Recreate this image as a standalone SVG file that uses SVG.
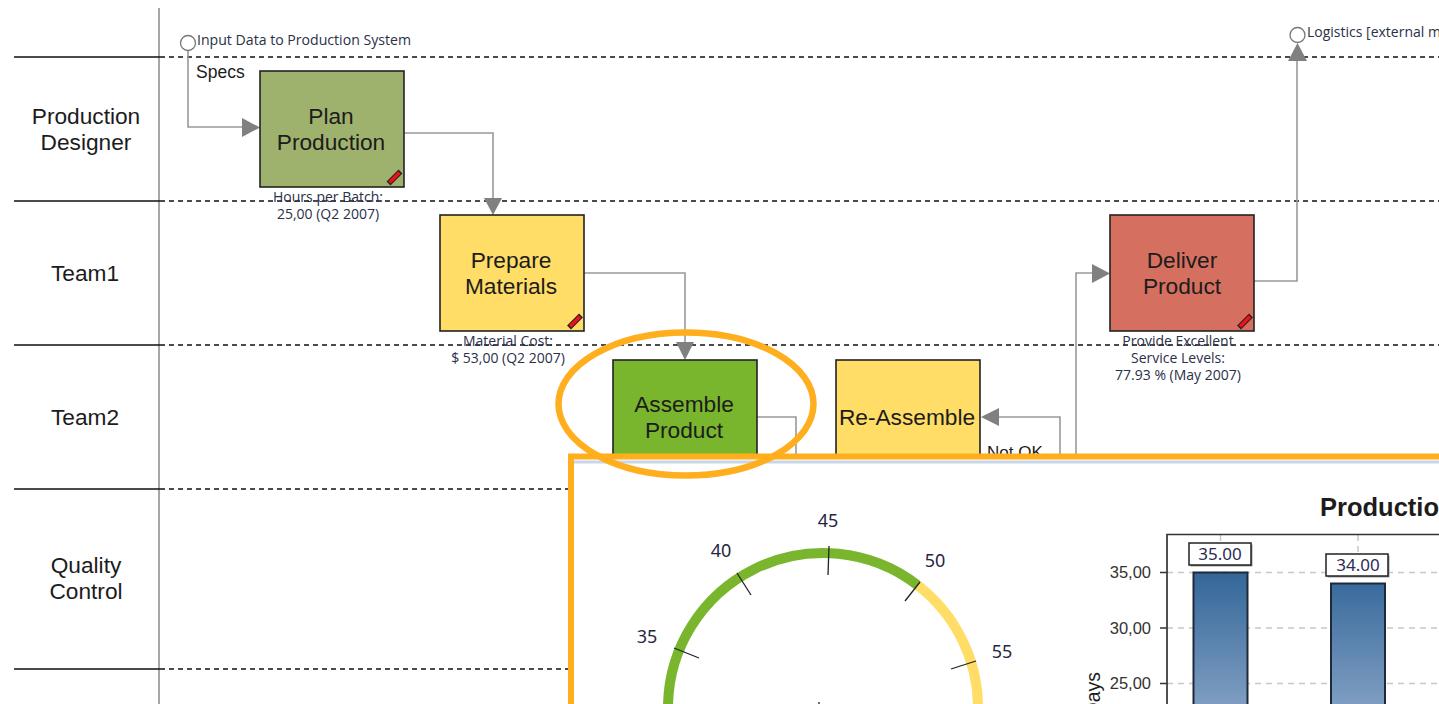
<svg xmlns="http://www.w3.org/2000/svg" xmlns:xlink="http://www.w3.org/1999/xlink" width="1439" height="704" viewBox="0 0 1439 704">
<style>
text{font-family:"Liberation Sans",Arial,sans-serif;fill:#1c1c1c}
.big{font-size:22.700px;text-anchor:middle}
.small{font-family:"Open Sans","Noto Sans",sans-serif;font-size:14px;fill:#2a3048}
.mid{text-anchor:middle}
.box{stroke:#222;stroke-width:1.6}
.sol{stroke:#111;stroke-width:1.5;fill:none}
.dash{stroke:#111;stroke-width:1.5;stroke-dasharray:5 4;fill:none}
.con{stroke:#999;stroke-width:1.6;fill:none}
.head{fill:#808080}
.term{fill:#fff;stroke:#777;stroke-width:1.3}
.gauge{font-family:"Noto Sans",sans-serif;font-size:18px;fill:#26263f;text-anchor:middle}
.tick{stroke:#222;stroke-width:1.3}
.ax{font-size:16.500px;fill:#333;text-anchor:end}
.grid{stroke:#c8c8c8;stroke-width:1.5;stroke-dasharray:6 5}
.bar{fill:url(#bar);stroke:#1f2a38;stroke-width:2}
.val{font-family:"Noto Sans",sans-serif;font-size:17px;fill:#2c2c55;text-anchor:middle}
.vbox{fill:#fff;stroke:#222;stroke-width:1.5}
</style>
<defs>
<linearGradient id="bar" gradientUnits="userSpaceOnUse" x1="0" y1="572" x2="0" y2="704"><stop offset="0" stop-color="#336699"/><stop offset="1" stop-color="#7e9dc1"/></linearGradient>
<g id="pencil"><path d="M-6 6L6-6" stroke="#222" stroke-width="5.500"/><path d="M-5 5L5-5" stroke="#f0101c" stroke-width="3.500"/></g>
</defs>

<g id="lanes">
<path d="M159 8V704" stroke="#8a8a8a" stroke-width="1.5" fill="none"/>
<path class="sol" d="M14 57H160M14 201H160M14 345H160M14 489H160M14 669H160"/>
<path class="dash" d="M160 57H1439M160 201H1439M160 345H1439M160 489H1439M160 669H1439"/>
<text class="big" x="86" y="124">Production</text><text class="big" x="86" y="150">Designer</text>
<text class="big" x="85" y="281">Team1</text>
<text class="big" x="85" y="425">Team2</text>
<text class="big" x="86" y="573">Quality</text><text class="big" x="86" y="599">Control</text>
</g>

<g id="connectors">
<path class="con" d="M188 50V127H243"/>
<path class="head" d="M242 118L260 127.500L242 137Z"/>
<path class="con" d="M404 133H493V199"/>
<path class="head" d="M484 198H502L493 215Z"/>
<path class="con" d="M584 273H685V343"/>
<path class="head" d="M676 342H694L685 360Z"/>
<path class="con" d="M757 417H796V456"/>
<path class="con" d="M998 417H1060V456"/>
<path class="head" d="M999 408V426L981 417Z"/>
<path class="con" d="M1076 456V273H1093"/>
<path class="head" d="M1092 264L1110 273.500L1092 283Z"/>
<path class="con" d="M1254 281H1297V60"/>
<path class="head" d="M1288 61H1307L1297.500 43Z"/>
</g>

<g id="start"><circle class="term" cx="188" cy="43" r="7.500"/><text class="small" x="197" y="45" textLength="214" lengthAdjust="spacingAndGlyphs">Input Data to Production System</text></g>
<g id="end"><circle class="term" cx="1297.500" cy="35" r="7.500"/><text class="small" x="1307" y="37">Logistics [external m</text></g>
<text id="label-specs" x="196" y="78" font-size="17.500">Specs</text>
<text id="label-notok" x="987" y="458" font-size="17px">Not OK</text>

<g id="plan-production">
<rect class="box" x="260" y="71" width="144" height="116" fill="#9fb26d"/>
<use xlink:href="#pencil" href="#pencil" x="394.500" y="177.500"/>
<text class="big" x="331" y="124">Plan</text><text class="big" x="331" y="150">Production</text>
<text class="small mid" x="328" y="202">Hours per Batch:</text><text class="small mid" x="328" y="219">25,00 (Q2 2007)</text>
</g>
<g id="prepare-materials">
<rect class="box" x="440" y="215" width="144" height="116" fill="#ffdd66"/>
<use xlink:href="#pencil" href="#pencil" x="575" y="321.500"/>
<text class="big" x="511" y="268">Prepare</text><text class="big" x="511" y="294">Materials</text>
<text class="small mid" x="508" y="346">Material Cost:</text><text class="small mid" x="508" y="363">$ 53,00 (Q2 2007)</text>
</g>
<g id="assemble-product">
<rect class="box" x="613" y="360" width="144" height="116" fill="#79b52d"/>
<text class="big" x="684" y="412">Assemble</text><text class="big" x="684" y="438">Product</text>
</g>
<g id="re-assemble">
<rect class="box" x="836" y="360" width="144" height="116" fill="#ffdd66"/>
<text class="big" x="907" y="425">Re-Assemble</text>
</g>
<g id="deliver-product">
<rect class="box" x="1110" y="215" width="144" height="116" fill="#d57060"/>
<use xlink:href="#pencil" href="#pencil" x="1245" y="321.500"/>
<text class="big" x="1182" y="268">Deliver</text><text class="big" x="1182" y="294">Product</text>
<text class="small mid" x="1178" y="346">Provide Excellent</text><text class="small mid" x="1178" y="363">Service Levels:</text><text class="small mid" x="1178" y="380">77.93 % (May 2007)</text>
</g>

<g id="panel">
<rect x="571" y="456.500" width="880" height="260" fill="#fff" stroke="#ffae1e" stroke-width="6"/>
<path d="M574 462H1439" stroke="#c9d6e8" stroke-width="3"/>
<g id="gauge">
<path d="M668 708A155 155 0 0 1 917.600 585.200" fill="none" stroke="#79b52d" stroke-width="10"/>
<path d="M917.600 585.200A155 155 0 0 1 978 708" fill="none" stroke="#ffdd66" stroke-width="10"/>
<path class="tick" d="M829 546L828 575M737 573L751 595M920 582L905 601M674 648L699 658M976 661L951 669M819 702V704"/>
<text class="gauge" x="828" y="527">45</text><text class="gauge" x="721" y="557">40</text><text class="gauge" x="935" y="567">50</text><text class="gauge" x="647" y="643">35</text><text class="gauge" x="1002" y="658">55</text>
</g>
<g id="chart">
<text x="1320" y="516" font-size="25.500" font-weight="bold" fill="#111">Production</text>
<path class="grid" d="M1167 572.500H1439M1167 628H1439M1167 683.500H1439M1220.500 535V543M1358 535V554"/>
<path d="M1440 534.500H1167V704M1160 572.500H1167M1160 628H1167M1160 683.500H1167" fill="none" stroke="#333" stroke-width="1.700"/>
<rect class="bar" x="1193.500" y="572.500" width="54" height="140"/>
<rect class="bar" x="1331" y="583.500" width="54" height="130"/>
<rect x="1190.500" y="544.500" width="62" height="22" fill="#999"/><rect class="vbox" x="1189" y="543" width="62" height="22"/>
<rect x="1327.500" y="555.500" width="62" height="22" fill="#999"/><rect class="vbox" x="1326" y="554" width="62" height="22"/>
<text class="val" x="1220" y="560">35.00</text><text class="val" x="1358" y="571">34.00</text>
<text class="ax" x="1151" y="578">35,00</text><text class="ax" x="1151" y="633.500">30,00</text><text class="ax" x="1151" y="689">25,00</text>
<text transform="translate(1100 672) rotate(-90)" font-size="19.500" fill="#333" text-anchor="end">Days</text>
</g>
</g>
<ellipse id="highlight" cx="686" cy="404" rx="127.500" ry="71.500" fill="none" stroke="#ffae1e" stroke-width="6.500"/>
</svg>
